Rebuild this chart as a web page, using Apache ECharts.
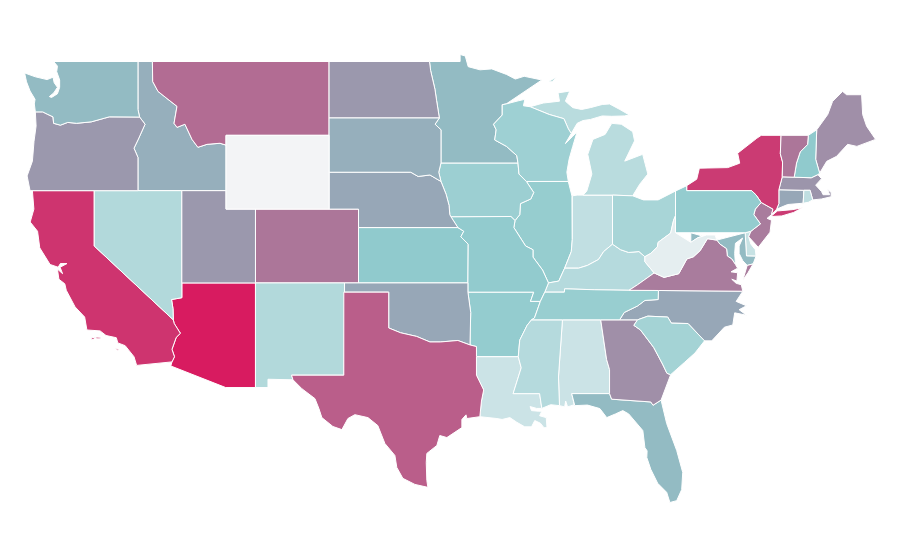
<!DOCTYPE html>
<html><head><meta charset="utf-8">
<style>html,body{margin:0;padding:0;background:#fff}#c{width:900px;height:560px}</style>
<script src="https://cdn.jsdelivr.net/npm/echarts@6/dist/echarts.min.js"></script>
</head><body><div id="c"></div>
<script>
const stateNames=['Alabama','Arizona','Arkansas','California','Colorado','Connecticut','Delaware','Florida','Georgia','Idaho','Illinois','Indiana','Iowa','Kansas','Kentucky','Louisiana','Maine','Maryland','Massachusetts','Michigan','Minnesota','Mississippi','Missouri','Montana','Nebraska','Nevada','New Hampshire','New Jersey','New Mexico','New York','North Carolina','North Dakota','Ohio','Oklahoma','Oregon','Pennsylvania','Rhode Island','South Carolina','South Dakota','Tennessee','Texas','Utah','Vermont','Virginia','Washington','West Virginia','Wisconsin','Wyoming'];
const stateValues=[20,100,48,93,74,59,22,54,66,57,47,25,44,50,31,20,66,54,64,29,54,31,49,77,59,33,50,72,33,91,59,63,38,59,63,48,26,40,57,46,81,63,74,72,54,7,43,0];
const colorStops=['#f3f4f6','#daeaeb','#c1dfe2','#a9d5d7','#90cacd','#9a9aae','#ae7397','#c6487b','#d81b60'];

const rev=a=>[...a].reverse();
const columbia=[[-116.92,45.99],[-118.98,46],[-119.3,45.93],[-120.2,45.73],[-121.2,45.65],[-121.8,45.7],[-122.3,45.55],[-122.76,45.65],[-122.8,46],[-123.2,46.15],[-123.5,46.27],[-124,46.27]];
const snake=[[-117.03,42],[-117.03,43.8],[-117.3,44.3],[-117,44.8],[-116.55,45.6],[-116.92,45.99]];
const idMt=[[-116.05,49],[-116.03,47.92],[-115.67,47.38],[-114.99,46.95],[-114.38,46.57],[-114.58,45.65],[-114.38,45.43],[-113.84,45.6],[-113.36,44.78],[-112.96,44.35],[-112.34,44.51],[-111.46,44.57],[-111.05,44.47]];
const ndMn=[[-97.23,49],[-97.15,48.5],[-96.86,47.5],[-96.75,46.9],[-96.56,45.94]];
const sdMn=[[-96.56,45.94],[-96.85,45.6],[-96.45,45.3],[-96.45,43.5]];
const sdIa=[[-96.45,43.5],[-96.6,43],[-96.45,42.5]];
const sdNe=[[-96.45,42.5],[-97.2,42.85],[-98,42.77],[-98.5,43],[-104.05,43]];
const neIa=[[-96.45,42.5],[-96.1,41.8],[-95.9,41.2],[-95.85,40.7],[-95.77,40.58]];
const ksMo=[[-95.3,40],[-94.9,39.8],[-95.1,39.5],[-94.6,39.1],[-94.62,37]];
const redRiver=[[-100,34.56],[-99.2,34.3],[-98.1,34.1],[-97.2,33.8],[-96.5,33.8],[-95.3,33.88],[-94.48,33.64]];
const mnWi=[[-92.02,46.7],[-92.29,46.66],[-92.29,46.1],[-92.88,45.6],[-92.7,45.3],[-92.8,44.75],[-92,44.4],[-91.3,43.9],[-91.22,43.5]];
const iaWi=[[-91.22,43.5],[-91.15,42.9],[-90.65,42.5]];
const iaIl=[[-90.65,42.5],[-90.15,41.9],[-90.35,41.55],[-91.05,41.3],[-91.1,40.7],[-91.42,40.38]];
const moIl=[[-91.42,40.38],[-91.5,40],[-90.7,39],[-90.2,38.8],[-90.2,38.4],[-89.55,37.7],[-89.15,37]];
const arTn=[[-89.7,36],[-90.1,35.1],[-90.3,35]];
const arMs=[[-90.3,35],[-90.6,34.7],[-91.1,33.9],[-91.2,33]];
const laMs=[[-91.2,33],[-91,32.4],[-91.55,31],[-89.75,31],[-89.6,30.2]];
const boot=[[-89.7,36],[-90.37,36],[-90.15,36.5]];
const kyTn=[[-89.4,36.5],[-88.07,36.5],[-88.05,36.68],[-86,36.63],[-83.68,36.6]];
const tnNc=[[-81.68,36.59],[-81.7,36.1],[-82.6,36.05],[-83.1,35.75],[-84,35.4],[-84.32,35]];
const kyIl=[[-89.15,37],[-88.45,37.1],[-88.05,37.8]];
const kyIn=[[-88.05,37.8],[-87.1,37.8],[-86.5,37.95],[-85.75,38.27],[-85.4,38.7],[-84.8,39.1]];
const kyOh=[[-84.8,39.1],[-84.25,38.8],[-83.7,38.65],[-83,38.7],[-82.6,38.42]];
const ohWv=[[-82.6,38.42],[-82.2,38.6],[-81.75,38.95],[-81.7,39.2],[-80.85,39.7],[-80.65,40.4],[-80.52,40.64]];
const kyWv=[[-82.6,38.42],[-82.6,38.15],[-81.97,37.54]];
const kyVa=[[-81.97,37.54],[-83.1,36.9],[-83.68,36.6]];
const vaWv=[[-81.97,37.54],[-81.3,37.3],[-80.3,37.5],[-79.75,38.3],[-79.3,38.42],[-78.85,38.75],[-78.35,39.4],[-77.72,39.32]];
const mdWv=[[-77.72,39.32],[-77.83,39.6],[-78.4,39.6],[-79,39.45],[-79.48,39.2],[-79.48,39.72]];
const mdVa=[[-77.72,39.32],[-77.5,39.1],[-77.05,38.85],[-77,38.46],[-76.7,38.3],[-76.45,38]];
const gaSc=[[-83.1,35],[-83.35,34.7],[-82.9,34.45],[-82,33.5],[-81.4,32.6],[-81.1,32.1],[-80.85,32.03]];
const ncSc=[[-83.1,35],[-82.4,35.2],[-81.05,35.15],[-80.8,34.82],[-79.67,34.8],[-78.55,33.86]];
const paNj=[[-74.7,41.36],[-75.1,41],[-75.2,40.7],[-74.75,40.2],[-75.4,39.8]];
const paNy=[[-79.76,42],[-75.35,42],[-75.05,41.77],[-74.7,41.36]];
const nyVt=[[-73.35,45],[-73.4,44],[-73.25,43.55],[-73.27,42.75]];
const vtNh=[[-71.5,45],[-71.55,44.5],[-72.05,44.1],[-72.3,43.5],[-72.46,42.73]];
const wiUp=[[-90.4,46.55],[-89.1,46.13],[-88.1,45.9],[-87.8,45.35],[-87.6,45.1]];

const shapes={
Alabama:[[[-88.2,35],[-85.6,35],[-85.2,32.85],[-85,32.3],[-85,31],[-87.57,31],[-87.4,30.4],[-87.85,30.28],[-87.98,30.6],[-88.05,30.28],[-88.4,30.35],[-88.47,31.9]]],
Arizona:[[[-114.05,37],[-109.05,37],[-109.05,31.33],[-111.07,31.33],[-114.8,32.5],[-114.72,32.72],[-114.55,33],[-114.72,33.4],[-114.43,34.05],[-114.15,34.27],[-114.57,34.8],[-114.63,35],[-114.65,35.6],[-114.75,36.1],[-114.4,36.15],[-114.05,36.2]]],
Arkansas:[[[-94.62,36.5],...rev(boot),...arTn,...arMs,[-94.04,33],[-94.04,33.55],[-94.48,33.64],[-94.43,35.4]]],
California:[[[-124.2,42],[-120,42],[-120,39],[-114.63,35],[-114.57,34.8],[-114.15,34.27],[-114.43,34.05],[-114.72,33.4],[-114.55,33],[-114.72,32.72],[-117.12,32.53],[-117.3,33],[-117.9,33.6],[-118.4,33.75],[-118.5,34.03],[-119.2,34.15],[-119.6,34.4],[-120.5,34.45],[-120.65,35.15],[-121.3,35.7],[-121.9,36.6],[-122,36.95],[-122.4,37.2],[-122.5,37.75],[-122.15,37.5],[-122.32,37.85],[-121.85,38.05],[-122.3,38.05],[-122.45,37.85],[-123,38],[-123.7,38.9],[-123.85,39.8],[-124.35,40.3],[-124.1,41]],
 [[-120.2,34.02],[-120,34.05],[-120.02,33.93],[-120.2,33.95]],[[-119.9,34.07],[-119.55,34.05],[-119.6,33.97],[-119.85,33.97]],[[-118.55,33.45],[-118.35,33.4],[-118.32,33.33],[-118.5,33.38]]],
Colorado:[[[-109.05,41],[-102.05,41],[-102.05,37],[-109.05,37]]],
Connecticut:[[[-73.5,42.05],[-71.8,42.02],[-71.85,41.32],[-72.9,41.25],[-73.65,41],[-73.5,41.3]]],
Delaware:[[[-75.79,39.72],[-75.4,39.8],[-75.55,39.5],[-75.4,39.1],[-75.1,38.8],[-75.05,38.45],[-75.7,38.46]]],
Florida:[[[-87.57,31],[-85,31],[-84.86,30.7],[-82.2,30.55],[-82.05,30.37],[-81.5,30.65],[-81.12,29.38],[-80.44,27.92],[-80.03,26.73],[-80.1,25.8],[-80.44,25.2],[-80.9,25.1],[-81.12,25.65],[-81.73,26.14],[-82.2,26.9],[-82.47,27.54],[-82.45,27.9],[-82.6,28.08],[-82.74,29],[-83.7,29.9],[-84.1,30.08],[-84.6,29.9],[-85.19,29.7],[-85.66,30.19],[-86.5,30.38],[-87.36,30.35]]],
Georgia:[[[-85.6,35],...gaSc,[-81.5,30.65],[-82.05,30.37],[-82.2,30.55],[-84.86,30.7],[-85,31],[-85,32.3],[-85.2,32.85]]],
Idaho:[[[-117.03,49],...idMt,[-111.05,42],...snake,[-117.03,46.4]]],
Illinois:[[[-90.65,42.5],[-87.8,42.5],[-87.55,41.7],[-87.53,39.35],[-87.6,38.7],...rev(kyIl),...rev(moIl),...rev(iaIl)]],
Indiana:[[[-87.53,41.72],[-87.2,41.76],[-86.8,41.76],[-84.8,41.76],...rev(kyIn),[-87.6,38.7],[-87.53,39.35]]],
Iowa:[[[-96.45,43.5],...iaWi.slice(0),...iaIl.slice(1),[-91.7,40.6],[-95.77,40.58],...rev(neIa).slice(1),...rev(sdIa).slice(1)]],
Kansas:[[[-102.05,40],...ksMo,[-102.05,37]]],
Kentucky:[[...kyTn,...rev(kyVa),...rev(kyWv),...rev(kyOh),...rev(kyIn),...rev(kyIl)]],
Louisiana:[[[-94.04,33],...laMs,[-89.95,30.2],[-90.4,30.3],[-90.3,30.08],[-89.85,30.05],[-89.6,30.05],[-89.75,29.8],[-89.3,29.7],[-89.25,29.16],[-89.45,29.15],[-89.7,29.4],[-90.08,29.54],[-90.3,29.2],[-90.76,29.2],[-91.3,29.45],[-91.77,29.7],[-92.3,29.6],[-92.65,29.65],[-93.81,29.75],[-93.7,30.6],[-93.55,31.2],[-94.04,32]]],
Maine:[[[-70.93,45.3],[-70.18,46.13],[-69.85,46.84],[-69.17,47.38],[-68.9,47.2],[-67.88,47.2],[-67.81,46.13],[-67.54,45.49],[-66.93,44.78],[-68.2,44.4],[-68.83,44.51],[-69.58,43.86],[-70.25,43.59],[-70.73,42.95],[-71,43.7]]],
Maryland:[[...rev(mdWv),[-75.79,39.72],[-75.7,38.46],[-75.05,38.45],[-75.25,38.03],[-75.65,37.95],[-75.95,38.2],[-76.2,38.6],[-76.2,39],[-75.96,39.43],[-76.45,39.15],[-76.5,38.6],...rev(mdVa)]],
Massachusetts:[[[-73.5,42.05],[-73.27,42.75],[-72.46,42.73],[-71.3,42.7],[-70.85,42.87],[-70.6,42.65],[-71,42.3],[-70.6,41.95],[-70.5,41.78],[-70.05,41.78],[-70.2,42.08],[-69.95,41.9],[-69.95,41.67],[-70.6,41.55],[-71.2,41.5],[-71.38,42.02],[-71.8,42.02]]],
Michigan:[[[-86.8,41.76],[-86.55,41.97],[-86.2,42.9],[-86.48,43.97],[-86.13,44.78],[-85.3,45.05],[-84.85,45.65],[-84.2,45.6],[-83.43,45.2],[-83.3,44.7],[-83.97,43.6],[-82.75,43.97],[-82.4,42.9],[-82.95,42.35],[-83.43,41.72],[-84.8,41.76]],
 [...wiUp,[-87.2,45.65],[-86.8,45.8],[-86.3,45.86],[-85.5,46.05],[-84.85,46.03],[-84,46.05],[-83.65,46.1],[-84.3,46.4],[-85,46.7],[-85.5,46.67],[-86.3,46.5],[-86.9,46.4],[-87.5,46.5],[-88,46.85],[-87.7,47.4],[-88.5,47.3],[-88.4,46.85],[-89.5,46.75]],
 [[-89.2,47.9],[-88.55,48.18],[-88.9,47.9]]],
Minnesota:[[[-97.23,49],[-95.15,49],[-95.15,49.38],[-94.8,49.3],[-94.6,48.72],[-93.8,48.55],[-93,48.6],[-92,48.3],[-91.4,48.05],[-90.8,48.2],[-89.6,48],...mnWi,[-96.45,43.5],...rev(sdMn).slice(1),...rev(ndMn).slice(1,-1)]],
Mississippi:[[[-90.3,35],[-88.2,35],[-88.47,31.9],[-88.4,30.35],[-89,30.4],[-89.6,30.2],...rev(laMs).slice(1),...rev(arMs).slice(1)]],
Missouri:[[[-95.77,40.58],[-91.7,40.6],...moIl,[-89.4,36.5],...boot,[-94.62,36.5],...rev(ksMo)]],
Montana:[[[-116.05,49],[-104.05,49],[-104.05,45],[-111.05,45],...rev(idMt)]],
Nebraska:[[[-104.05,43],...rev(sdNe).slice(1),...neIa,[-95.3,40],[-102.05,40],[-102.05,41],[-104.05,41]]],
Nevada:[[[-120,42],[-114.05,42],[-114.05,36.2],[-114.4,36.15],[-114.75,36.1],[-114.65,35.6],[-114.63,35],[-120,39]]],
'New Hampshire':[[...vtNh,[-71.3,42.7],[-70.85,42.87],[-70.73,42.95],[-71,43.7],[-70.93,45.3]]],
'New Jersey':[[...paNj,[-75.55,39.5],[-74.9,38.93],[-74.1,39.75],[-74,40.4],[-74.3,40.5],[-74,40.7],[-73.9,41]]],
'New Mexico':[[[-109.05,37],[-103,37],[-103.05,32],[-106.6,32],[-106.5,31.75],[-108.2,31.78],[-108.2,31.33],[-109.05,31.33]]],
'New York':[[[-79.76,42.27],[-79.08,42.62],[-78.9,43.22],[-76.97,43.25],[-76.16,43.49],[-76.3,44.03],[-75,44.84],[-74.7,45],...nyVt,[-73.5,42.05],[-73.5,41.3],[-73.65,41],[-74,40.7],[-73.9,41],...rev(paNy)]],
'North Carolina':[[...tnNc,[-83.1,35],...ncSc.slice(1),[-78.06,33.86],[-77.2,34.6],[-76.63,34.72],[-76.5,35.38],[-75.7,35.25],[-76.2,35.55],[-75.7,35.76],[-76.4,36],[-75.95,36.55]]],
'North Dakota':[[[-104.05,49],...ndMn,[-104.05,45.94]]],
Ohio:[[[-84.8,41.76],[-83.43,41.72],[-82.7,41.5],[-81.7,41.5],[-80.52,41.98],...rev(ohWv),...rev(kyOh)]],
Oklahoma:[[[-103,37],[-94.62,37],[-94.62,36.5],[-94.43,35.4],...rev(redRiver),[-100,36.5],[-103,36.5]]],
Oregon:[[...columbia,[-123.95,45.5],[-124.09,44.68],[-124.2,43.6],[-124.56,42.8],[-124.36,42],...snake.slice(0,-1)]],
Pennsylvania:[[[-80.52,41.98],[-79.76,42.27],...paNy,...paNj.slice(1),[-75.79,39.72],[-79.48,39.72],[-80.52,39.72],[-80.52,40.64]]],
'Rhode Island':[[[-71.8,42.02],[-71.38,42.02],[-71.2,41.5],[-71.5,41.37],[-71.85,41.32]]],
'South Carolina':[[...gaSc,[-79.9,32.7],[-79.2,33.2],...rev(ncSc)]],
'South Dakota':[[[-104.05,45.94],...sdMn,...sdIa.slice(1),...sdNe.slice(1)]],
Tennessee:[[...arTn,[-88.2,35],[-85.6,35],[-84.32,35],...rev(tnNc).slice(1),[-83.68,36.6],...rev(kyTn).slice(1),[-89.7,36]]],
Texas:[[[-103.05,36.5],[-100,36.5],...redRiver,[-94.04,33.55],[-94.04,33],[-94.04,32],[-93.55,31.2],[-93.7,30.6],[-93.81,29.75],[-94.69,29.65],[-94.75,29.85],[-95.03,29.6],[-95.03,29.16],[-96.05,28.62],[-96.53,28.73],[-96.73,28.19],[-97.41,27.76],[-97.45,27.27],[-97.41,26.3],[-97.34,25.92],[-98.22,26.08],[-99.04,26.41],[-99.45,27],[-99.58,27.65],[-100.26,28.3],[-100.74,29.27],[-101.41,29.7],[-102.3,29.86],[-102.77,29.65],[-103.18,29.05],[-103.79,29.22],[-104.54,29.7],[-104.74,30.19],[-105.01,30.73],[-105.9,31.27],[-106.5,31.75],[-106.6,32],[-103.05,32]]],
Utah:[[[-114.05,42],[-111.05,42],[-111.05,41],[-109.05,41],[-109.05,37],[-114.05,37]]],
Vermont:[[...nyVt,...rev(vtNh)]],
Virginia:[[[-83.68,36.6],[-81.68,36.59],[-75.95,36.55],[-76.05,36.9],[-76.4,36.98],[-76.7,37.2],[-76.35,37.1],[-76.3,37.55],[-76.75,37.6],[-76.3,37.8],[-76.45,38],...rev(mdVa),...rev(vaWv).slice(1),...kyVa.slice(1)]],
Washington:[[[-122.76,49],[-117.03,49],[-117.03,46.4],[-116.92,45.99],...columbia.slice(1),[-124.07,46.7],[-124.02,46.95],[-124.36,47.4],[-124.6,47.9],[-124.73,48.38],[-124,48.17],[-123.2,48.02],[-122.8,48.15],[-122.72,47.85],[-122.5,47.6],[-122.75,47.3],[-123.05,47.1],[-122.9,47.05],[-122.5,47.25],[-122.35,47.6],[-122.35,48],[-122.55,48.45],[-122.5,48.75]]],
'West Virginia':[[[-80.52,40.64],[-80.52,39.72],...rev(mdWv).slice(1),...rev(vaWv).slice(1),...rev(kyWv).slice(1),...ohWv.slice(1,-1)]],
Wisconsin:[[[-92.02,46.7],[-91.2,46.87],[-90.75,46.95],[-90.85,46.6],...wiUp,[-88,44.55],[-87.5,44.95],[-87.2,45.2],[-87.5,44.4],[-87.75,43.7],[-87.9,43],[-87.8,42.5],[-90.65,42.5],...rev(iaWi).slice(1),...rev(mnWi).slice(1)]],
Wyoming:[[[-111.05,45],[-104.05,45],[-104.05,41],[-111.05,41]]]
};
shapes['New York'].push([[-74.05,40.6],[-73.6,40.9],[-72.6,40.97],[-71.9,41.07],[-72.5,40.82],[-73.3,40.63]]);
shapes.Virginia.push([[-75.95,37.15],[-75.6,37.55],[-75.25,38.03],[-75.65,37.95]]);

const geo={type:'FeatureCollection',features:stateNames.map(n=>({type:'Feature',properties:{name:n},geometry:{type:'MultiPolygon',coordinates:shapes[n].map(r=>[[...r,r[0]]])}}))};
echarts.registerMap('USA',geo);
const chart=echarts.init(document.getElementById('c'),null,{renderer:'canvas'});
chart.setOption({
 backgroundColor:'#fff',animation:false,
 visualMap:{show:false,type:'continuous',min:0,max:100,inRange:{color:colorStops}},
 series:[{type:'map',map:'USA',roam:false,silent:true,aspectScale:0.7978,left:24.6,top:54.5,width:851,height:448,
  label:{show:false},itemStyle:{borderColor:'#ffffff',borderWidth:1},
  data:stateNames.map((n,i)=>({name:n,value:stateValues[i]}))}]
});
</script></body></html>
